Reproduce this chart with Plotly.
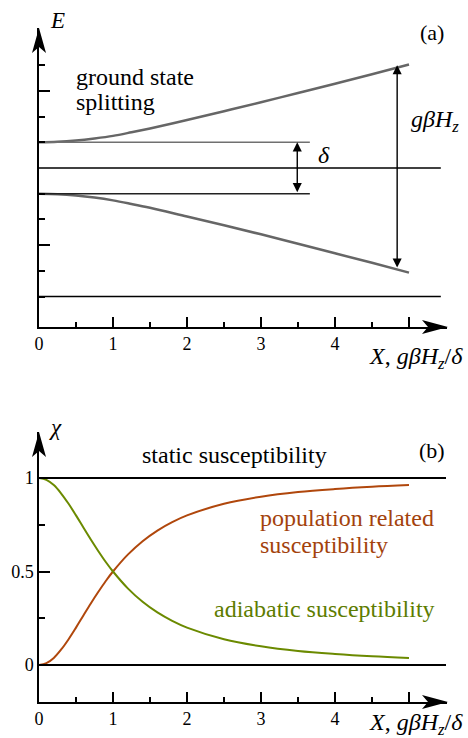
import plotly.graph_objects as go

# ---------------- data ----------------
# panel (a): energy levels vs X = g*beta*H_z/delta
X_a = [0, 0.25, 0.5, 0.75, 1, 1.25, 1.5, 2, 2.5, 3, 3.5, 4, 4.5, 5]
E_upper = [1.0, 1.02, 1.07, 1.15, 1.25, 1.39, 1.54, 1.87, 2.21, 2.56, 2.92, 3.28, 3.65, 4.03]
E_lower = [-1.0, -1.02, -1.07, -1.15, -1.26, -1.40, -1.55, -1.89, -2.23, -2.58, -2.95, -3.32, -3.69, -4.07]
E_levels = [1.0, -1.0]          # zero-field doublet (delta splitting)
E_level_colors = ["#707070", "#222222"]
E_levels_end = 3.66
E_refs = [0.0, -5.0]            # reference horizontal lines
E_refs_end = 5.43
delta_arrow = {"X": 3.49, "E": (1.0, -1.0)}
gbh_arrow = {"X": 4.84, "E": (4.0, -3.93)}

# panel (b): susceptibilities
X_b = [0, 0.1, 0.2, 0.3, 0.4, 0.5, 0.6, 0.7, 0.8, 0.9, 1.0, 1.2, 1.4, 1.6, 1.8,
       2.0, 2.5, 3, 3.5, 4, 4.5, 5]
chi_adiabatic = [1.0, 0.99, 0.962, 0.917, 0.862, 0.80, 0.735, 0.671, 0.61, 0.552, 0.50,
                 0.41, 0.338, 0.281, 0.236, 0.20, 0.138, 0.10, 0.075, 0.059, 0.047, 0.038]
chi_population = [0.0, 0.01, 0.038, 0.083, 0.138, 0.20, 0.265, 0.329, 0.39, 0.448, 0.50,
                  0.59, 0.662, 0.719, 0.764, 0.80, 0.862, 0.90, 0.925, 0.941, 0.953, 0.962]
chi_static = 1.0
chi_refs_end = 5.5

x_ticks = [0, 1, 2, 3, 4, 5]
x_ticktext = ["0", "1", "2", "3", "4", ""]
x_minor = [0.5, 1.5, 2.5, 3.5, 4.5]
ya_major = [-3, 3]
ya_minor = [-5, -4, -2, -1, 1, 2, 4]
yb_major = [0, 0.5, 1]
yb_ticktext = ["0", "0.5", "1"]
yb_minor = [0.25, 0.75]

# ---------------- layout helpers ----------------
W, H = 468, 738
def px(x): return x / W
def py(y): return 1 - y / H

X0, XS = 39, 74.0           # pixel of X=0, px per unit
EA0, EAS = 168, 25.7        # panel a: pixel of E=0, px per unit
CB0, CBS = 665, 187.0       # panel b: pixel of chi=0, px per unit

FONT = "Liberation Serif"
GRAY = "#666666"
BROWN = "#b0470c"
GREEN = "#6b8a00"
GREEN_T = "#5d7c00"
BROWN_T = "#a3420c"

fig = go.Figure()

# panel a traces
fig.add_trace(go.Scatter(x=X_a, y=E_upper, mode="lines", line=dict(color=GRAY, width=2.5, shape="spline"),
                         xaxis="x", yaxis="y", showlegend=False, hoverinfo="skip"))
fig.add_trace(go.Scatter(x=X_a, y=E_lower, mode="lines", line=dict(color=GRAY, width=2.5, shape="spline"),
                         xaxis="x", yaxis="y", showlegend=False, hoverinfo="skip"))
for e, c in zip(E_levels, E_level_colors):
    fig.add_trace(go.Scatter(x=[0, E_levels_end], y=[e, e], mode="lines", line=dict(color=c, width=1.5),
                             xaxis="x", yaxis="y", showlegend=False, hoverinfo="skip"))
for e in E_refs:
    fig.add_trace(go.Scatter(x=[0, E_refs_end], y=[e, e], mode="lines", line=dict(color="black", width=1.5),
                             xaxis="x", yaxis="y", showlegend=False, hoverinfo="skip", cliponaxis=False))

# panel b traces
for c in [chi_static, 0.0]:
    fig.add_trace(go.Scatter(x=[0, chi_refs_end], y=[c, c], mode="lines", line=dict(color="black", width=2),
                             xaxis="x2", yaxis="y2", showlegend=False, hoverinfo="skip", cliponaxis=False))
fig.add_trace(go.Scatter(x=X_b, y=chi_population, mode="lines", line=dict(color=BROWN, width=2, shape="spline"),
                         xaxis="x2", yaxis="y2", showlegend=False, hoverinfo="skip"))
fig.add_trace(go.Scatter(x=X_b, y=chi_adiabatic, mode="lines", line=dict(color=GREEN, width=2, shape="spline"),
                         xaxis="x2", yaxis="y2", showlegend=False, hoverinfo="skip"))

xdom = [px(X0), px(447)]
xrng = [0, (447 - X0) / XS]
axcommon = dict(showgrid=False, zeroline=False, showline=True, linecolor="black", linewidth=1.5,
                ticks="inside", tickcolor="black", tickwidth=1.5, automargin=False)

fig.update_layout(
    width=W, height=H, margin=dict(l=0, r=0, t=0, b=0, autoexpand=False),
    paper_bgcolor="white", plot_bgcolor="white",
    font=dict(family=FONT, size=17, color="black"),
    xaxis=dict(domain=xdom, range=xrng, anchor="y", tickvals=x_ticks, ticktext=x_ticktext, ticklen=10,
               minor=dict(tickmode="array", tickvals=x_minor, ticks="inside", ticklen=5, tickcolor="black", tickwidth=1.5),
               tickfont=dict(family=FONT, size=18), **axcommon),
    yaxis=dict(domain=[py(327), py(28)], range=[(EA0 - 327) / EAS, (EA0 - 28) / EAS], anchor="x",
               tickvals=ya_major, ticklen=11, showticklabels=False,
               minor=dict(tickmode="array", tickvals=ya_minor, ticks="inside", ticklen=6, tickcolor="black", tickwidth=1.5),
               **axcommon),
    xaxis2=dict(domain=xdom, range=xrng, anchor="y2", tickvals=x_ticks, ticktext=x_ticktext, ticklen=10,
                minor=dict(tickmode="array", tickvals=x_minor, ticks="inside", ticklen=5, tickcolor="black", tickwidth=1.5),
                tickfont=dict(family=FONT, size=18), **axcommon),
    yaxis2=dict(domain=[py(702), py(432)], range=[(CB0 - 702) / CBS, (CB0 - 432) / CBS], anchor="x2",
                tickvals=yb_major, ticktext=yb_ticktext, ticklen=11, tickfont=dict(family=FONT, size=18),
                minor=dict(tickmode="array", tickvals=yb_minor, ticks="inside", ticklen=6, tickcolor="black", tickwidth=1.5),
                **axcommon),
)

# axis arrowheads (stealth)
def head_up(x, y):
    return f"M {px(x)} {py(y)} L {px(x-7)} {py(y+25)} L {px(x)} {py(y+19)} L {px(x+7)} {py(y+25)} Z"
def head_right(x, y):
    return f"M {px(x)} {py(y)} L {px(x-26)} {py(y-7)} L {px(x-20)} {py(y)} L {px(x-26)} {py(y+7)} Z"
for p in [head_up(39, 28), head_right(448, 327), head_up(39, 432), head_right(448, 702)]:
    fig.add_shape(type="path", path=p, xref="paper", yref="paper", fillcolor="black", line=dict(width=0))

# double arrows in panel a
for arr in [delta_arrow, gbh_arrow]:
    fig.add_annotation(x=arr["X"], y=arr["E"][0], ax=arr["X"], ay=arr["E"][1], xref="x", yref="y",
                       axref="x", ayref="y", text="", showarrow=True, arrowside="end+start",
                       arrowhead=2, arrowsize=1.3, arrowwidth=1.4, arrowcolor="black",
                       standoff=0, startstandoff=0)

def txt(x, y, s, size=24, color="black", xanchor="center"):
    fig.add_annotation(x=px(x), y=py(y), xref="paper", yref="paper", text=s, showarrow=False,
                       xanchor=xanchor, yanchor="middle", font=dict(family=FONT, size=size, color=color))

xlabel = "<i>X</i>, <i>gβH</i><sub><i>z</i></sub>/<i>δ</i>"
# panel a texts
txt(57, 20, "<i>E</i>", 23)
txt(432, 32, "(a)", 22)
txt(74, 77, "ground state", 24, xanchor="left")
txt(74, 102, "splitting", 24, xanchor="left")
txt(316, 155, "<i>δ</i>", 24, xanchor="left")
txt(409, 121, "<i>gβH</i><sub><i>z</i></sub>", 24, xanchor="left")
txt(465, 358, xlabel, 24, xanchor="right")
# panel b texts
txt(55, 427, "<i>χ</i>", 23)
txt(432, 450, "(b)", 22)
txt(234, 455, "static susceptibility", 24)
txt(258, 518, "population related", 24, color=BROWN_T, xanchor="left")
txt(258, 545, "susceptibility", 24, color=BROWN_T, xanchor="left")
txt(212, 609, "adiabatic susceptibility", 24, color=GREEN_T, xanchor="left")
txt(465, 724, xlabel, 24, xanchor="right")

fig.write_html("out.html", config={"displayModeBar": False},
               post_script="document.body.style.margin='0';document.body.style.padding='0';")
